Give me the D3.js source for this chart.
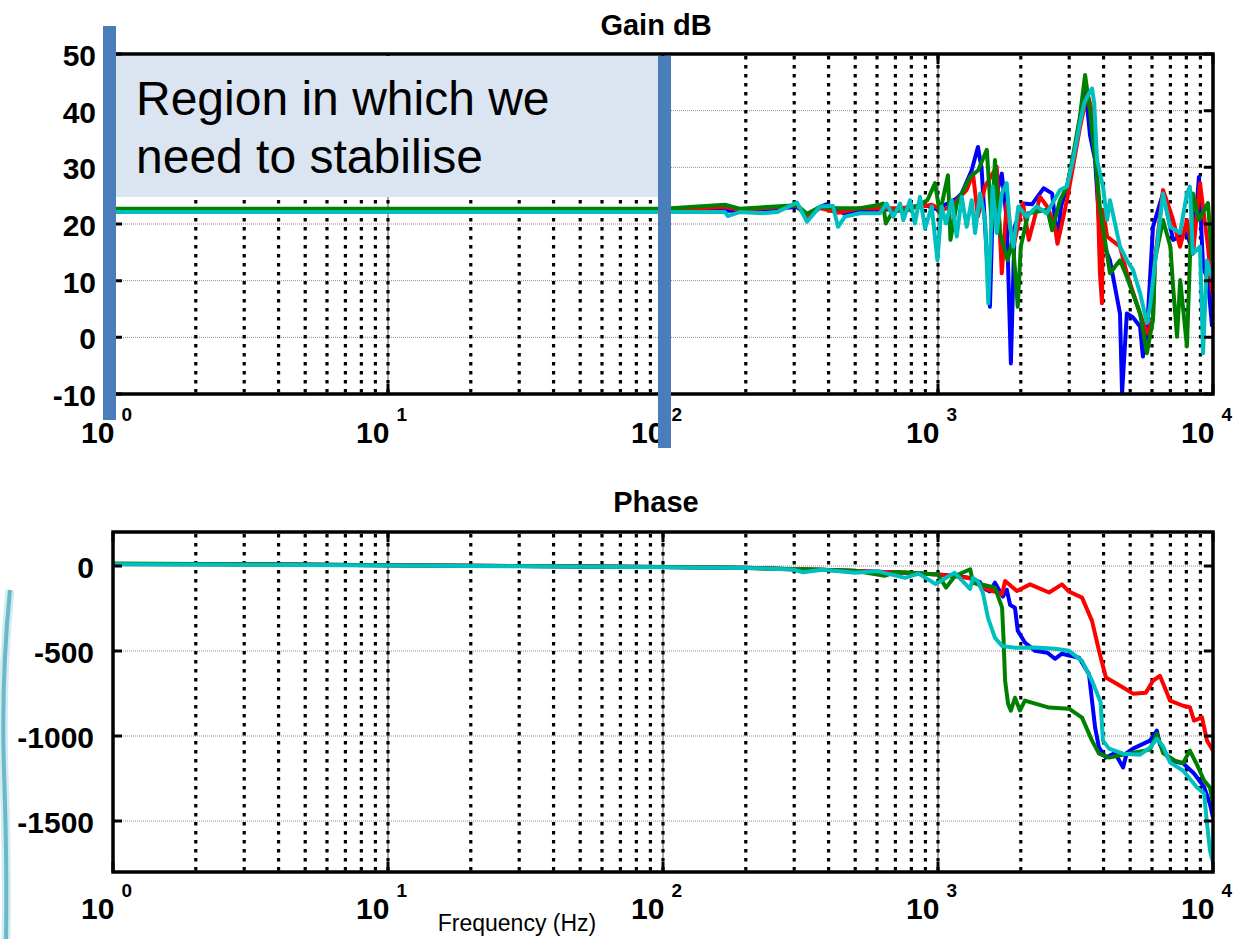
<!DOCTYPE html>
<html>
<head>
<meta charset="utf-8">
<script src="https://cdn.jsdelivr.net/npm/d3@7"></script>
<style>
body { margin: 0; background: #fff; }
text { font-family: "Liberation Sans", Arial, sans-serif; fill: #000; }
</style>
</head>
<body>
<div id="chart"></div>
<script>
// ---- data: [frequency Hz, value] ----
const gainBlue = [[1,22.3],[100,22.3],[168,22.4],[190,22.3],[307,23.0],[334,21.5],[372,23.0],[395,23.5],[433,22.3],[459,21.8],[520,22.3],[615,22.6],[700,22.5],[791,23.0],[900,23.3],[995,22.6],[1069,23.5],[1170,24.5],[1220,25.4],[1326,29.5],[1397,33.6],[1440,29.9],[1545,5.4],[1580,22.5],[1706,28.9],[1778,20.7],[1841,-4.6],[1900,19.5],[2036,23.6],[2200,23.5],[2420,26.3],[2600,25.4],[2720,16.8],[2800,23],[2944,26.6],[3097,31.3],[3283,38.4],[3427,44.5],[3570,35.7],[3726,31.3],[3880,18],[4220,13.6],[4590,4.2],[4670,-9.9],[4860,4.2],[5120,3.5],[5430,1.9],[5560,-3.4],[5750,0.7],[6050,19.5],[6580,25.4],[7160,17.2],[8040,18.4],[8450,14.8],[8890,28.3],[9200,12.5],[9590,10.0],[9920,1.9]];
const gainRed = [[1,22.5],[100,22.5],[168,23.0],[190,22.5],[307,23.2],[334,21.3],[372,22.8],[433,22.0],[520,22.8],[615,22.8],[700,22.8],[860,23.0],[949,23.4],[1031,22.5],[1122,23.0],[1202,24.8],[1271,26],[1340,28.9],[1397,21.3],[1483,26.6],[1635,30.1],[1706,11.3],[1778,23.6],[1879,16],[2036,23.6],[2140,17.2],[2350,24.8],[2500,23],[2663,19.5],[2720,16.5],[2944,24.2],[3097,30.1],[3283,37],[3490,43.1],[3630,40],[3786,29.5],[3880,11.3],[3948,6.0],[3980,22.5],[4120,17.8],[4590,16],[4860,11.3],[5430,4.2],[5750,0.7],[6050,3.1],[6150,13.6],[6580,26],[7100,21.3],[7590,16],[8040,20.7],[8450,14.8],[8970,27.2],[9590,16],[9920,7.8]];
const gainGreen = [[1,22.7],[100,22.7],[168,23.4],[190,22.7],[307,23.3],[334,21.8],[372,23.0],[433,22.8],[520,22.8],[615,23.4],[631,23.6],[646,20.1],[685,22.2],[790,22.5],[915,24.2],[975,27.2],[1016,21.9],[1087,28.6],[1110,17.2],[1170,23.6],[1307,28.3],[1400,29.5],[1505,33.1],[1570,19.5],[1611,31.3],[1680,18.4],[1790,13.6],[1870,17.2],[1950,5.4],[2000,16],[2130,21.9],[2500,22.5],[2600,18.9],[2779,24.2],[2944,26.6],[3097,32],[3283,39],[3427,46.3],[3570,40],[3786,28.3],[3880,23],[4220,11.3],[4590,13.6],[4860,10.7],[5430,4.2],[5750,-2.8],[6050,3.1],[6150,13.6],[6580,20.7],[7000,16],[7160,8.9],[7400,0.1],[7600,10.1],[8040,-1.6],[8240,13.6],[8450,25.4],[8890,20.7],[9590,23.7],[9920,13.6]];
const gainCyan = [[1,22.1],[50,22.1],[168,22.1],[172,21.4],[190,22.1],[230,21.9],[260,22.1],[307,23.8],[334,20.4],[372,23.1],[415,23.2],[433,19.5],[459,21.3],[520,21.9],[615,21.9],[650,23.6],[688,21.3],[728,23.6],[748,20.7],[791,24.2],[824,20.1],[860,24.8],[897,19.2],[949,23.1],[995,13.6],[1031,23.1],[1069,20.1],[1122,24.2],[1170,17.8],[1220,24.8],[1271,19.5],[1326,24.2],[1364,18.4],[1422,25.4],[1483,20.7],[1524,6.0],[1580,26.6],[1635,18.4],[1706,25.4],[1778,27.2],[1828,19.5],[1879,16],[1960,23.1],[2101,21.3],[2284,23.1],[2484,21.9],[2779,26],[2944,26.6],[3097,31.3],[3283,37.8],[3400,41.3],[3490,42.5],[3631,43.9],[3700,41.3],[3786,31.3],[3980,26.6],[4120,20.7],[4220,24.2],[4590,16],[4860,13.6],[5120,11.9],[5430,7.8],[5750,2.5],[5900,5.4],[6250,16],[6580,25.4],[6980,19.5],[7590,18.4],[8040,25.4],[8240,26.6],[8450,14.8],[8970,16],[9200,-2.8],[9510,13.6],[9920,10.6]];

const phaseBlue = [[1,12],[3,10],[10,5],[30,0],[100,-6],[200,-10],[295,-19],[380,-22],[570,-33],[760,-40],[1000,-50],[1200,-60],[1300,-70],[1420,-95],[1457,-130],[1545,-150],[1611,-98],[1680,-150],[1720,-180],[1780,-140],[1830,-230],[1905,-245],[1950,-381],[2070,-450],[2254,-499],[2500,-510],[2663,-546],[2823,-516],[3258,-540],[3540,-636],[3726,-950],[3850,-1068],[4080,-1127],[4400,-1100],[4710,-1185],[4860,-1100],[5120,-1074],[5900,-1027],[6250,-968],[6410,-1050],[6980,-1145],[7780,-1160],[8530,-1221],[9280,-1300],[9750,-1400],[10000,-1480]];
const phaseRed = [[1,12],[3,10],[10,5],[30,0],[100,-6],[200,-12],[295,-19],[380,-22],[570,-33],[760,-40],[1000,-50],[1300,-70],[1457,-128],[1710,-166],[1754,-88],[1936,-147],[2161,-108],[2535,-156],[2823,-108],[2994,-150],[3340,-186],[3631,-323],[3850,-499],[4080,-656],[4710,-715],[5120,-751],[5700,-745],[6050,-675],[6410,-646],[6700,-720],[6980,-792],[7780,-822],[8240,-830],[8530,-910],[9120,-890],[9510,-1027],[10000,-1086]];
const phaseGreen = [[1,14],[3,11],[10,5],[30,0],[100,-6],[200,-10],[295,-18],[500,-28],[640,-58],[700,-35],[800,-40],[1000,-50],[1070,-127],[1150,-60],[1310,-19],[1340,-100],[1457,-110],[1611,-127],[1710,-245],[1730,-420],[1754,-675],[1798,-810],[1841,-851],[1905,-775],[1986,-850],[2070,-792],[2535,-833],[2994,-839],[3340,-892],[3631,-1027],[3850,-1104],[4186,-1127],[4710,-1110],[5900,-1080],[6250,-986],[6580,-1100],[7280,-1145],[7780,-1160],[8240,-1086],[8750,-1170],[9280,-1262],[9750,-1303],[10000,-1397]];
const phaseCyan = [[1,10],[3,8],[10,3],[30,-2],[100,-8],[200,-12],[295,-20],[323,-37],[380,-22],[500,-40],[600,-30],[760,-70],[850,-45],[980,-106],[1150,-40],[1307,-135],[1340,-70],[1397,-90],[1457,-160],[1520,-305],[1611,-423],[1710,-470],[1905,-481],[2254,-480],[2663,-487],[2994,-499],[3340,-558],[3631,-675],[3900,-800],[3980,-1027],[4186,-1074],[4710,-1104],[5430,-1110],[5900,-1068],[6250,-1016],[6580,-1060],[6980,-1156],[7780,-1203],[8750,-1303],[9280,-1338],[9510,-1514],[9750,-1673],[10000,-1743]];

const decades = [1, 10, 100, 1000, 10000];
const gainTicks = [-10, 0, 10, 20, 30, 40, 50];
const phaseTicks = [-1500, -1000, -500, 0];
const colors = ["#0000ff", "#ff0000", "#008000", "#00bfbf"];

// ---- layout ----
const width = 1237, height = 939;
const svg = d3.select("#chart")
  .append("svg")
    .attr("width", width)
    .attr("height", height);

const x = d3.scaleLog().domain([1, 10000]).range([113, 1213]);
const yGain = d3.scaleLinear().domain([-10, 50]).range([394, 54]);
const yPhase = d3.scaleLinear().domain([-1800, 200]).range([872, 532]);

// minor decade positions 2..9
const minors = [];
decades.slice(0, 4).forEach(function(d) {
  for (let k = 2; k <= 9; k++) minors.push(d * k);
});

// decorative curve at far left (slide artefact)
const deco = "M10,590 C4,650 2,710 4,770 C6,830 7,885 6,939";
svg.append("path")
  .attr("d", deco)
  .attr("fill", "none")
  .attr("stroke", "#bfe3ea")
  .attr("stroke-width", 9)
  .attr("opacity", 0.7);
svg.append("path")
  .attr("d", deco)
  .attr("fill", "none")
  .attr("stroke", "#6bb8c6")
  .attr("stroke-width", 4);

function panel(y, yTicks, series, title, titleY, labelY, id, ylabX) {
  const top = y.range()[1], bottom = y.range()[0];
  const left = x.range()[0], right = x.range()[1];
  const g = svg.append("g");

  svg.append("clipPath").attr("id", id)
    .append("rect").attr("x", left).attr("y", top).attr("width", right - left).attr("height", bottom - top);

  // horizontal grid
  g.selectAll(".hg").data(yTicks).enter().append("line")
    .attr("x1", left).attr("x2", right)
    .attr("y1", function(d) { return y(d); }).attr("y2", function(d) { return y(d); })
    .attr("stroke", "#8c8c8c").attr("stroke-width", 1).attr("stroke-dasharray", "1,1");

  // decade grid (thin)
  g.selectAll(".dg").data(decades.slice(1, 4)).enter().append("line")
    .attr("x1", function(d) { return x(d); }).attr("x2", function(d) { return x(d); })
    .attr("y1", top).attr("y2", bottom)
    .attr("stroke", "#555").attr("stroke-width", 1);

  // dotted grid
  g.selectAll(".mg").data(minors.concat(decades.slice(1, 4))).enter().append("line")
    .attr("x1", function(d) { return x(d); }).attr("x2", function(d) { return x(d); })
    .attr("y1", top + 2).attr("y2", bottom)
    .attr("stroke", "#000").attr("stroke-width", 3.2).attr("stroke-dasharray", "3.5,5.5");

  // curves
  const line = d3.line()
    .x(function(d) { return x(d[0]); })
    .y(function(d) { return y(d[1]); });
  series.forEach(function(s, i) {
    g.append("path")
      .datum(s)
      .attr("clip-path", "url(#" + id + ")")
      .attr("fill", "none")
      .attr("stroke", colors[i])
      .attr("stroke-width", 4)
      .attr("stroke-linejoin", "round")
      .attr("d", line);
  });

  // ticks
  g.selectAll(".yt").data(yTicks).enter().append("path")
    .attr("d", function(d) { return "M" + left + "," + y(d) + "h9M" + right + "," + y(d) + "h-9"; })
    .attr("stroke", "#000").attr("stroke-width", 3);
  g.selectAll(".xt").data(decades).enter().append("path")
    .attr("d", function(d) { return "M" + x(d) + "," + bottom + "v-10M" + x(d) + "," + top + "v10"; })
    .attr("stroke", "#000").attr("stroke-width", 3);

  // frame
  g.append("rect")
    .attr("x", left).attr("y", top).attr("width", right - left).attr("height", bottom - top)
    .attr("fill", "none").attr("stroke", "#000").attr("stroke-width", 3.5);

  // y labels
  g.selectAll(".yl").data(yTicks).enter().append("text")
    .attr("x", ylabX).attr("y", function(d) { return y(d) + 12; })
    .attr("text-anchor", "end")
    .style("font-size", "30px").style("font-weight", "bold")
    .text(function(d) { return d; });

  // x labels 10^k
  decades.forEach(function(d) {
    const t = g.append("text")
      .attr("x", x(d) - 32).attr("y", labelY)
      .style("font-size", "30px").style("font-weight", "bold")
      .text("10");
    t.append("tspan")
      .attr("dx", 7).attr("dy", -22)
      .style("font-size", "19px")
      .text(Math.round(Math.log10(d)));
  });

  // title
  g.append("text")
    .attr("x", 656).attr("y", titleY)
    .attr("text-anchor", "middle")
    .style("font-size", "29px").style("font-weight", "bold")
    .text(title);
  return g;
}

panel(yGain, gainTicks, [gainBlue, gainRed, gainGreen, gainCyan], "Gain dB", 35, 443, "clipGain", 96);
panel(yPhase, phaseTicks, [phaseBlue, phaseRed, phaseGreen, phaseCyan], "Phase", 512, 919, "clipPhase", 94);

svg.append("text")
  .attr("x", 517).attr("y", 931)
  .attr("text-anchor", "middle")
  .style("font-size", "23px")
  .text("Frequency (Hz)");

// ---- annotation: region to stabilise ----
svg.append("rect")
  .attr("x", x(1) + 3).attr("y", 56)
  .attr("width", x(100) - 5 - x(1) - 3).attr("height", 141)
  .attr("fill", "#dbe5f1");
svg.append("rect")
  .attr("x", x(1) - 10).attr("y", 26)
  .attr("width", 13).attr("height", 394)
  .attr("fill", "#4a7ebb");
svg.append("rect")
  .attr("x", x(100) - 5).attr("y", 56)
  .attr("width", 13).attr("height", 392)
  .attr("fill", "#4a7ebb");
const note = svg.append("text")
  .style("font-size", "48px");
note.append("tspan").attr("x", 136).attr("y", 115).text("Region in which we");
note.append("tspan").attr("x", 136).attr("y", 173).text("need to stabilise");
</script>
</body>
</html>
